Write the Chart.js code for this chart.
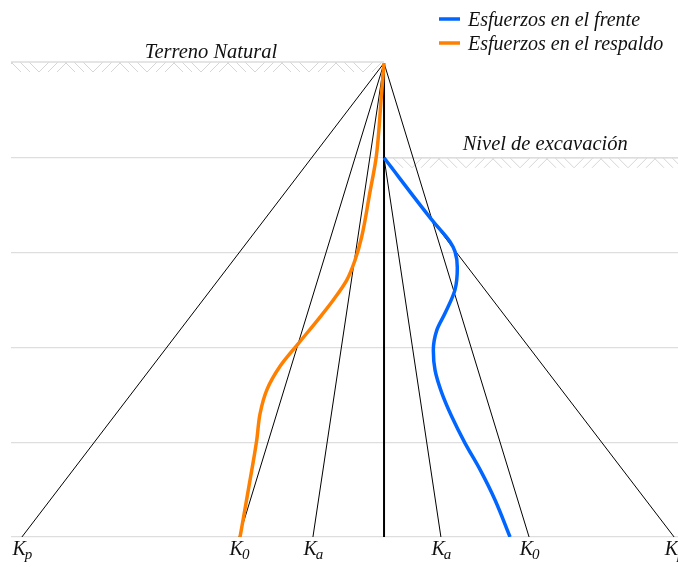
<!DOCTYPE html>
<html>
<head>
<meta charset="utf-8">
<script src="https://cdn.jsdelivr.net/npm/chart.js@4/dist/chart.umd.min.js"></script>
<style>
  html, body { margin: 0; padding: 0; overflow: hidden; background: #fff; width: 678px; height: 567px; }
  canvas { display: block; }
</style>
</head>
<body>
<canvas id="c" width="720" height="567"></canvas>
<script>
const FONT = '"Liberation Serif", "DejaVu Serif", serif';

// Depth of the wall (y) and excavation level
const depthTicks = [0, 1, 2, 3, 4, 5];
const wallDepth = 5;
const excavationDepth = 1;

// Earth-pressure coefficient lines: value at the base and depth where each starts
const coefBase = 'K';
const coefSubs = ['p', '0', 'a', 'a', '0', 'p'];
const coefBaseStress = [-3.82, -1.53, -0.75, 0.60, 1.53, 3.06];
const coefTopDepth = [0, 0, 0, 1, 0, 1];

// Stresses on the retained side (respaldo)
const backDepth  = [0, 0.32, 0.99, 1.37, 1.83, 2.08, 2.29, 2.50, 2.68, 2.96, 3.20, 3.45, 3.70, 3.98, 4.50, 5.0];
const backStress = [0, -0.026, -0.082, -0.150, -0.235, -0.306, -0.393, -0.535, -0.675, -0.904, -1.097, -1.237, -1.308, -1.343, -1.431, -1.519];

// Stresses on the excavated side (frente)
const frontDepth  = [1.0, 1.674, 1.885, 1.99, 2.16, 2.39, 2.64, 2.82, 3.03, 3.24, 3.48, 3.73, 4.01, 4.29, 4.61, 5.0];
const frontStress = [0, 0.520, 0.696, 0.749, 0.773, 0.749, 0.643, 0.556, 0.520, 0.538, 0.609, 0.714, 0.854, 1.013, 1.171, 1.329];

const seriesNames = ['Esfuerzos en el frente', 'Esfuerzos en el respaldo'];
const seriesColors = ['#0066ff', '#ff8000'];

// Text annotations: [text, stress position, depth]
const groundLabel = ['Terreno Natural', -1.825, 0];
const excavLabel = ['Nivel de excavación', 1.70, excavationDepth];

const toPoints = (xs, ys) => xs.map((v, i) => ({ x: v, y: ys[i] }));

const curveDatasets = [
  {
    label: seriesNames[0],
    data: toPoints(frontStress, frontDepth),
    borderColor: seriesColors[0],
    borderWidth: 3.5,
    indexAxis: 'y',
    cubicInterpolationMode: 'monotone',
    pointRadius: 0,
    fill: false,
    order: 0
  },
  {
    label: seriesNames[1],
    data: toPoints(backStress, backDepth),
    borderColor: seriesColors[1],
    borderWidth: 3.5,
    indexAxis: 'y',
    cubicInterpolationMode: 'monotone',
    pointRadius: 0,
    fill: false,
    order: 1
  }
];

const coefDatasets = coefBaseStress.map((v, i) => ({
  label: coefBase + coefSubs[i],
  data: [{ x: 0, y: coefTopDepth[i] }, { x: v, y: wallDepth }],
  borderColor: '#000',
  borderWidth: 1,
  pointRadius: 0,
  fill: false,
  order: 3
}));

const wallDataset = {
  label: 'Muro',
  data: [{ x: 0, y: 0 }, { x: 0, y: wallDepth }],
  borderColor: '#000',
  borderWidth: 2,
  pointRadius: 0,
  fill: false,
  order: 2
};

// Ground hatching under the natural terrain and the excavation level
function hatch(ctx, x0, x1, y) {
  ctx.save();
  ctx.beginPath();
  ctx.rect(x0, y, x1 - x0, 11);
  ctx.clip();
  ctx.strokeStyle = '#d6d6d6';
  ctx.lineWidth = 1;
  ctx.beginPath();
  for (let b = x0 - 54; b < x1 + 54; b += 54) {
    for (let k = 0; k < 3; k++) {
      ctx.moveTo(b + k * 9, y);
      ctx.lineTo(b + k * 9 + 10, y + 10);
      ctx.moveTo(b + 38 + k * 9, y);
      ctx.lineTo(b + 28 + k * 9, y + 10);
    }
  }
  ctx.stroke();
  ctx.restore();
  ctx.save();
  ctx.strokeStyle = '#dcdcdc';
  ctx.lineWidth = 1.3;
  ctx.beginPath();
  ctx.moveTo(x0, y);
  ctx.lineTo(x1, y);
  ctx.stroke();
  ctx.restore();
}

const groundPlugin = {
  id: 'ground',
  beforeDatasetsDraw(chart) {
    const { ctx, chartArea, scales } = chart;
    const xw = scales.x.getPixelForValue(0);
    hatch(ctx, chartArea.left, xw, scales.y.getPixelForValue(0) - 1);
    hatch(ctx, xw, chartArea.right, scales.y.getPixelForValue(excavationDepth));
  }
};

const textPlugin = {
  id: 'texts',
  afterDatasetsDraw(chart) {
    const { ctx, chartArea, scales } = chart;
    ctx.save();
    ctx.fillStyle = '#111';
    ctx.textBaseline = 'alphabetic';

    // coefficient labels under the base of each line
    const mainFont = 'italic 20px ' + FONT;
    const subFont = 'italic 15px ' + FONT;
    coefBaseStress.forEach((v, i) => {
      const cx = scales.x.getPixelForValue(v);
      ctx.font = mainFont;
      const wK = ctx.measureText(coefBase).width;
      ctx.font = subFont;
      const wS = ctx.measureText(coefSubs[i]).width;
      const left = cx - (wK + wS) / 2 + 1;
      const base = chartArea.bottom + 18;
      ctx.textAlign = 'left';
      ctx.font = mainFont;
      ctx.fillText(coefBase, left, base);
      ctx.font = subFont;
      ctx.fillText(coefSubs[i], left + wK - 1, base + 4);
    });

    // level annotations
    ctx.font = 'italic 20.5px ' + FONT;
    ctx.textAlign = 'center';
    ctx.fillText(groundLabel[0], scales.x.getPixelForValue(groundLabel[1]), scales.y.getPixelForValue(groundLabel[2]) - 5);
    ctx.fillText(excavLabel[0], scales.x.getPixelForValue(excavLabel[1]), scales.y.getPixelForValue(excavLabel[2]) - 8);

    // legend (top right)
    ctx.font = 'italic 20px ' + FONT;
    ctx.textAlign = 'left';
    curveDatasets.forEach((ds, i) => {
      const y = 19 + i * 24;
      ctx.strokeStyle = ds.borderColor;
      ctx.lineWidth = 3.5;
      ctx.beginPath();
      ctx.moveTo(439, y);
      ctx.lineTo(460, y);
      ctx.stroke();
      ctx.fillText(ds.label, 468, y + 7);
    });
    ctx.restore();
  }
};

new Chart(document.getElementById('c'), {
  type: 'line',
  data: { datasets: [...curveDatasets, wallDataset, ...coefDatasets] },
  options: {
    responsive: false,
    animation: false,
    devicePixelRatio: 1,
    layout: { padding: { top: 63, left: 11, right: 0, bottom: 30 } },
    plugins: { legend: { display: false }, tooltip: { enabled: false } },
    scales: {
      x: {
        type: 'linear',
        display: false,
        min: -3.935,
        max: 3.544
      },
      y: {
        type: 'linear',
        reverse: true,
        min: depthTicks[0],
        max: depthTicks[depthTicks.length - 1],
        afterBuildTicks: (scale) => { scale.ticks = depthTicks.map(v => ({ value: v })); },
        ticks: { display: false },
        border: { display: false },
        grid: {
          drawTicks: false,
          lineWidth: 1.3,
          color: (c) => (c.tick && c.tick.value === 0 ? 'rgba(0,0,0,0)' : '#dedede')
        }
      }
    }
  },
  plugins: [groundPlugin, textPlugin]
});
</script>
</body>
</html>
